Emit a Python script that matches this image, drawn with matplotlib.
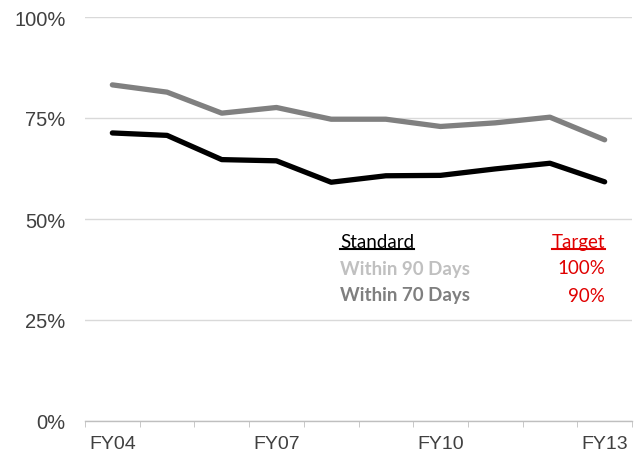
import matplotlib
matplotlib.use("Agg")
import matplotlib.pyplot as plt
import numpy as np
from matplotlib.lines import Line2D

categories = ["FY04", "FY05", "FY06", "FY07", "FY08", "FY09", "FY10", "FY11", "FY12", "FY13"]
within_90 = [83.2, 81.4, 76.2, 77.6, 74.7, 74.7, 72.9, 73.8, 75.2, 69.6]
within_70 = [71.3, 70.7, 64.7, 64.4, 59.1, 60.7, 60.8, 62.4, 63.8, 59.2]
shown_labels = ["FY04", "FY07", "FY10", "FY13"]
y_ticks = [0, 25, 50, 75, 100]
legend_rows = [("Within 90 Days", "100%"), ("Within 70 Days", "90%")]

W, H = 643, 452
fig = plt.figure(figsize=(W / 100, H / 100), dpi=100)
ax = fig.add_axes([85 / W, 1 - 422 / H, (632 - 85) / W, (422 - 18) / H])

x = np.arange(len(categories))
ax.plot(x, within_90, color="#808080", lw=3.8, solid_capstyle="round", solid_joinstyle="round", zorder=3)
ax.plot(x, within_70, color="#000000", lw=3.8, solid_capstyle="round", solid_joinstyle="round", zorder=3)

ax.set_xlim(-0.5, len(categories) - 0.5)
ax.set_ylim(0, 100)
ax.set_yticks(y_ticks)
ax.set_yticklabels([f"{v}%" for v in y_ticks], fontfamily="Liberation Sans", fontsize=14.5, color="#404040")
ax.yaxis.grid(True, color="#d9d9d9", lw=1)
ax.set_axisbelow(True)
ax.tick_params(axis="y", length=0, pad=14)

ax.set_xticks([categories.index(c) for c in shown_labels])
ax.set_xticklabels(shown_labels, fontfamily="Liberation Sans", fontsize=14, color="#404040")
ax.tick_params(axis="x", which="major", length=0, pad=10)
ax.set_xticks(np.arange(-0.5, len(categories), 1.0), minor=True)
ax.tick_params(axis="x", which="minor", length=4, color="#bfbfbf", direction="out")

for s in ["top", "right", "left"]:
    ax.spines[s].set_visible(False)
ax.spines["bottom"].set_color("#bfbfbf")
ax.spines["bottom"].set_linewidth(1)

fam = ["Lato", "DejaVu Sans"]
fs = 13.5
t1 = fig.text(340 / W, 1 - 243 / H, "Standard", fontfamily=fam, fontsize=fs, color="black", va="center", ha="left")
t2 = fig.text(605 / W, 1 - 243 / H, "Target", fontfamily=fam, fontsize=fs, color="#e00000", va="center", ha="right")
row_colors = ["#c0c0c0", "#7f7f7f"]
row_y = [269, 296]
for (lab, tgt), c, yy in zip(legend_rows, row_colors, row_y):
    fig.text(340 / W, 1 - yy / H, lab, fontfamily=fam, fontsize=fs, fontweight="bold", color=c, va="center", ha="left")
    fig.text(605 / W, 1 - yy / H, tgt, fontfamily=fam, fontsize=fs, color="#e00000", va="center", ha="right")

fig.canvas.draw()
r = fig.canvas.get_renderer()
for t, c in [(t1, "black"), (t2, "#e00000")]:
    bb = t.get_window_extent(r)
    yline = bb.y0 + 1.5
    fig.add_artist(Line2D([bb.x0 / W, bb.x1 / W], [yline / H, yline / H], transform=fig.transFigure, color=c, lw=1.5))

fig.savefig("out.png", dpi=100)
